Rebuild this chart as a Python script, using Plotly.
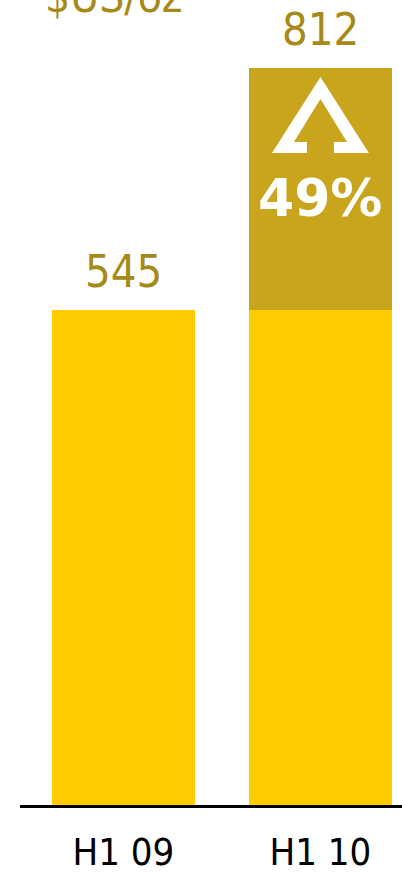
import plotly.graph_objects as go

# ---- data ----
categories = ["H1 09", "H1 10"]
values = [545, 812]
unit_label = "$US/oz"
change_label = "49%"

incr_vals = [0, values[1] - values[0]]

YELLOW = "#FFCC00"
DARK = "#C9A41D"
TXT = "#A68A17"
FONT = "DejaVu Sans Condensed, DejaVu Sans, sans-serif"

x = [0, 1]
fig = go.Figure()
fig.add_bar(x=x, y=[values[0], values[0]], marker_color=YELLOW, width=0.726,
            marker_line_width=0, hoverinfo="skip")
fig.add_bar(x=x, y=incr_vals, marker_color=DARK, width=0.726,
            marker_line_width=0, hoverinfo="skip")

# value labels
for xi, v in zip(x, values):
    fig.add_annotation(x=xi, y=v, xref="x", yref="y", text=str(v), showarrow=False,
                       yanchor="bottom", yshift=10,
                       font=dict(family=FONT, size=45, color=TXT))

# unit label (cut at top, as in the source)
fig.add_annotation(x=0.06, y=1, xref="paper", yref="paper", text=unit_label,
                   showarrow=False, xanchor="left", yanchor="bottom", yshift=-24,
                   font=dict(family=FONT, size=44, color=TXT))

# percentage
fig.add_annotation(x=1, y=668, xref="x", yref="y", text="<b>" + change_label + "</b>",
                   showarrow=False, font=dict(family="DejaVu Sans, sans-serif", size=52, color="white"))

# arrow glyph (relative to bar 2 center)
cx = 1.0
ow, il, fi = 0.246, 0.1345, 0.0685
ya, yi, yf, yb = 801.8, 777.5, 730.2, 718.1
pts = [(cx, ya), (cx + ow, yb), (cx + fi, yb), (cx + fi, yf), (cx + il, yf), (cx, yi),
       (cx - il, yf), (cx - fi, yf), (cx - fi, yb), (cx - ow, yb)]
path = "M " + " L ".join(f"{px},{py}" for px, py in pts) + " Z"
fig.add_shape(type="path", path=path, xref="x", yref="y", fillcolor="white",
              line=dict(width=0))

fig.update_layout(
    width=402, height=873, margin=dict(l=20, r=0, t=0, b=68, autoexpand=False),
    barmode="stack", showlegend=False, bargap=0,
    plot_bgcolor="white", paper_bgcolor="white",
    xaxis=dict(range=[-0.525, 1.414], tickvals=x, ticktext=categories,
               showline=True, linecolor="black", linewidth=2.5, showgrid=False,
               zeroline=False, ticks="", ticklabelstandoff=12, automargin=False,
               tickfont=dict(family=FONT, size=38, color="black")),
    yaxis=dict(range=[0, 886.6], visible=False, showgrid=False, zeroline=False,
               automargin=False),
)
fig.write_html("out.html")
